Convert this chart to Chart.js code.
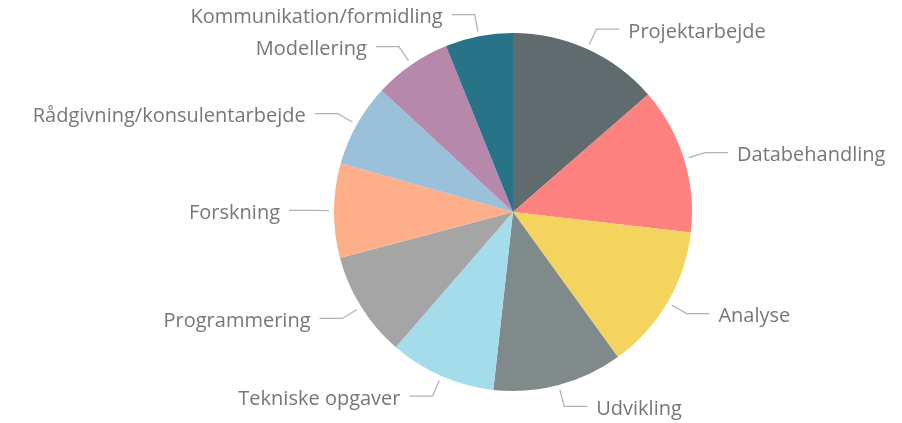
<!DOCTYPE html>
<html>
<head>
<meta charset="utf-8">
<script src="https://cdn.jsdelivr.net/npm/chart.js@4"></script>
<style>
  html, body { margin: 0; padding: 0; background: #fff; }
  #wrap { width: 902px; height: 423px; }
</style>
</head>
<body>
<div id="wrap"><canvas id="chart" width="902" height="423"></canvas></div>
<script>
// categories and shares (percent)
const categories = [
  'Projektarbejde', 'Databehandling', 'Analyse', 'Udvikling', 'Tekniske opgaver',
  'Programmering', 'Forskning', 'Rådgivning/konsulentarbejde', 'Modellering',
  'Kommunikation/formidling'
];
const shares = [13.6, 13.2, 13.2, 11.7, 9.6, 9.5, 8.5, 7.5, 7.0, 6.1];
const sliceColors = [
  '#5f6b6d', '#fd817e', '#f4d35e', '#808a8a', '#a4dcec',
  '#a5a5a5', '#feae88', '#9ac0da', '#b688ab', '#287388'
];

// draws outside labels with bent leader lines
const outerLabels = {
  id: 'outerLabels',
  afterDatasetsDraw(chart) {
    const ctx = chart.ctx;
    const arcs = chart.getDatasetMeta(0).data;
    ctx.save();
    ctx.font = '20px "Open Sans", "Noto Sans", sans-serif';
    ctx.textBaseline = 'middle';
    arcs.forEach((arc, i) => {
      const mid = (arc.startAngle + arc.endAngle) / 2;
      const r = arc.outerRadius;
      const cos = Math.cos(mid), sin = Math.sin(mid);
      const x1 = arc.x + cos * (r + 5), y1 = arc.y + sin * (r + 5);
      const x2 = arc.x + cos * (r + 22), y2 = arc.y + sin * (r + 22);
      const right = cos >= 0;
      const x3 = x2 + (right ? 23 : -23);
      ctx.strokeStyle = '#b3b3b3';
      ctx.lineWidth = 1.3;
      ctx.beginPath();
      ctx.moveTo(x1, y1);
      ctx.lineTo(x2, y2);
      ctx.lineTo(x3, y2);
      ctx.stroke();
      ctx.fillStyle = '#777777';
      ctx.textAlign = right ? 'left' : 'right';
      ctx.fillText(categories[i], x3 + (right ? 9 : -9), y2 + 3);
    });
    ctx.restore();
  }
};

new Chart(document.getElementById('chart'), {
  type: 'pie',
  data: {
    labels: categories,
    datasets: [{
      data: shares,
      backgroundColor: sliceColors,
      borderWidth: 0
    }]
  },
  options: {
    responsive: false,
    animation: false,
    layout: { padding: { left: 124, right: 0, top: 33, bottom: 32 } },
    plugins: {
      legend: { display: false },
      tooltip: { enabled: false }
    }
  },
  plugins: [outerLabels]
});
</script>
</body>
</html>
